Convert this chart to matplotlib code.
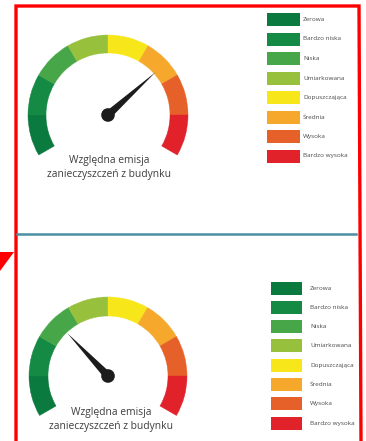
import numpy as np
import matplotlib
matplotlib.use('Agg')
import matplotlib.pyplot as plt
from matplotlib.patches import Wedge, Circle, Polygon, Rectangle

# levels shown on the gauge and in the legend (left to right on the dial)
levels = ['Zerowa', 'Bardzo niska', 'Niska', 'Umiarkowana',
          'Dopuszczająca', 'Średnia', 'Wysoka', 'Bardzo wysoka']
level_colors = ['#0b7a3e', '#158a44', '#47a748', '#97c03d',
                '#f7e71a', '#f5a82b', '#e6612a', '#e1222b']

# needle readings, in level units (0 = start of "Zerowa", 8 = end of "Bardzo wysoka")
needle_values = [5.6, 2.55]
caption_lines = ['Względna emisja', 'zanieczyszczeń z budynku']

W, H = 366, 441
fig = plt.figure(figsize=(W / 100, H / 100), dpi=100)
ax = fig.add_axes([0, 0, 1, 1])
ax.set_xlim(0, W)
ax.set_ylim(0, H)
ax.axis('off')

FONT = ['Open Sans', 'DejaVu Sans']
START, SWEEP = 210, 240


def draw_gauge(cx, cy, r_out, r_in, value, needle_len, text_x, text_y):
    step = SWEEP / len(levels)
    for i, col in enumerate(level_colors):
        a1 = START - i * step
        ax.add_patch(Wedge((cx, H - cy), r_out, a1 - step, a1,
                           width=r_out - r_in, facecolor=col, edgecolor=col, lw=0.3))
    ang = np.deg2rad(START - value * step)
    tip = (cx + needle_len * np.cos(ang), H - cy + needle_len * np.sin(ang))
    perp = ang + np.pi / 2
    hw = 4.0
    base1 = (cx + hw * np.cos(perp), H - cy + hw * np.sin(perp))
    base2 = (cx - hw * np.cos(perp), H - cy - hw * np.sin(perp))
    ax.add_patch(Polygon([tip, base1, base2], closed=True, facecolor='#1c1c1c', edgecolor='none'))
    ax.add_patch(Circle((cx, H - cy), 6.8, facecolor='#1c1c1c', edgecolor='none'))
    for k, line in enumerate(caption_lines):
        ax.text(text_x, H - (text_y + k * 14), line, ha='center', va='center',
                fontsize=7.4, color='#3d3d3d', family=FONT)


def draw_legend(x0, y0, dy, sw_w, sw_h, label_x):
    for i, (name, col) in enumerate(zip(levels, level_colors)):
        yc = H - (y0 + i * dy)
        ax.add_patch(Rectangle((x0, yc - sw_h / 2), sw_w, sw_h, facecolor=col, edgecolor='none'))
        ax.text(label_x, yc, name, ha='left', va='center', fontsize=4.6,
                color='#4a4a4a', family=FONT)


# red frame (open at the bottom)
ax.plot([16, 16, 359, 361], [0, H - 6, H - 6, 0], color='#ff0000', lw=2.4, solid_joinstyle='miter')
# teal separator
ax.plot([17, 356], [H - 234, H - 234], color='#4b8fa1', lw=1.8)
# red arrow tip on the left edge
ax.add_patch(Polygon([(0, H - 252), (14, H - 252), (0, H - 271)], closed=True,
                     facecolor='#ff0000', edgecolor='none'))

draw_gauge(108, 115, 80, 62, needle_values[0], 64, 109, 160)
draw_legend(267, 19.5, 19.5, 33, 13, 303)

draw_gauge(108, 376, 79, 60, needle_values[1], 59, 111, 412)
draw_legend(271, 288, 19.3, 31, 13, 310)

fig.savefig('out.png', dpi=100, facecolor='white')
